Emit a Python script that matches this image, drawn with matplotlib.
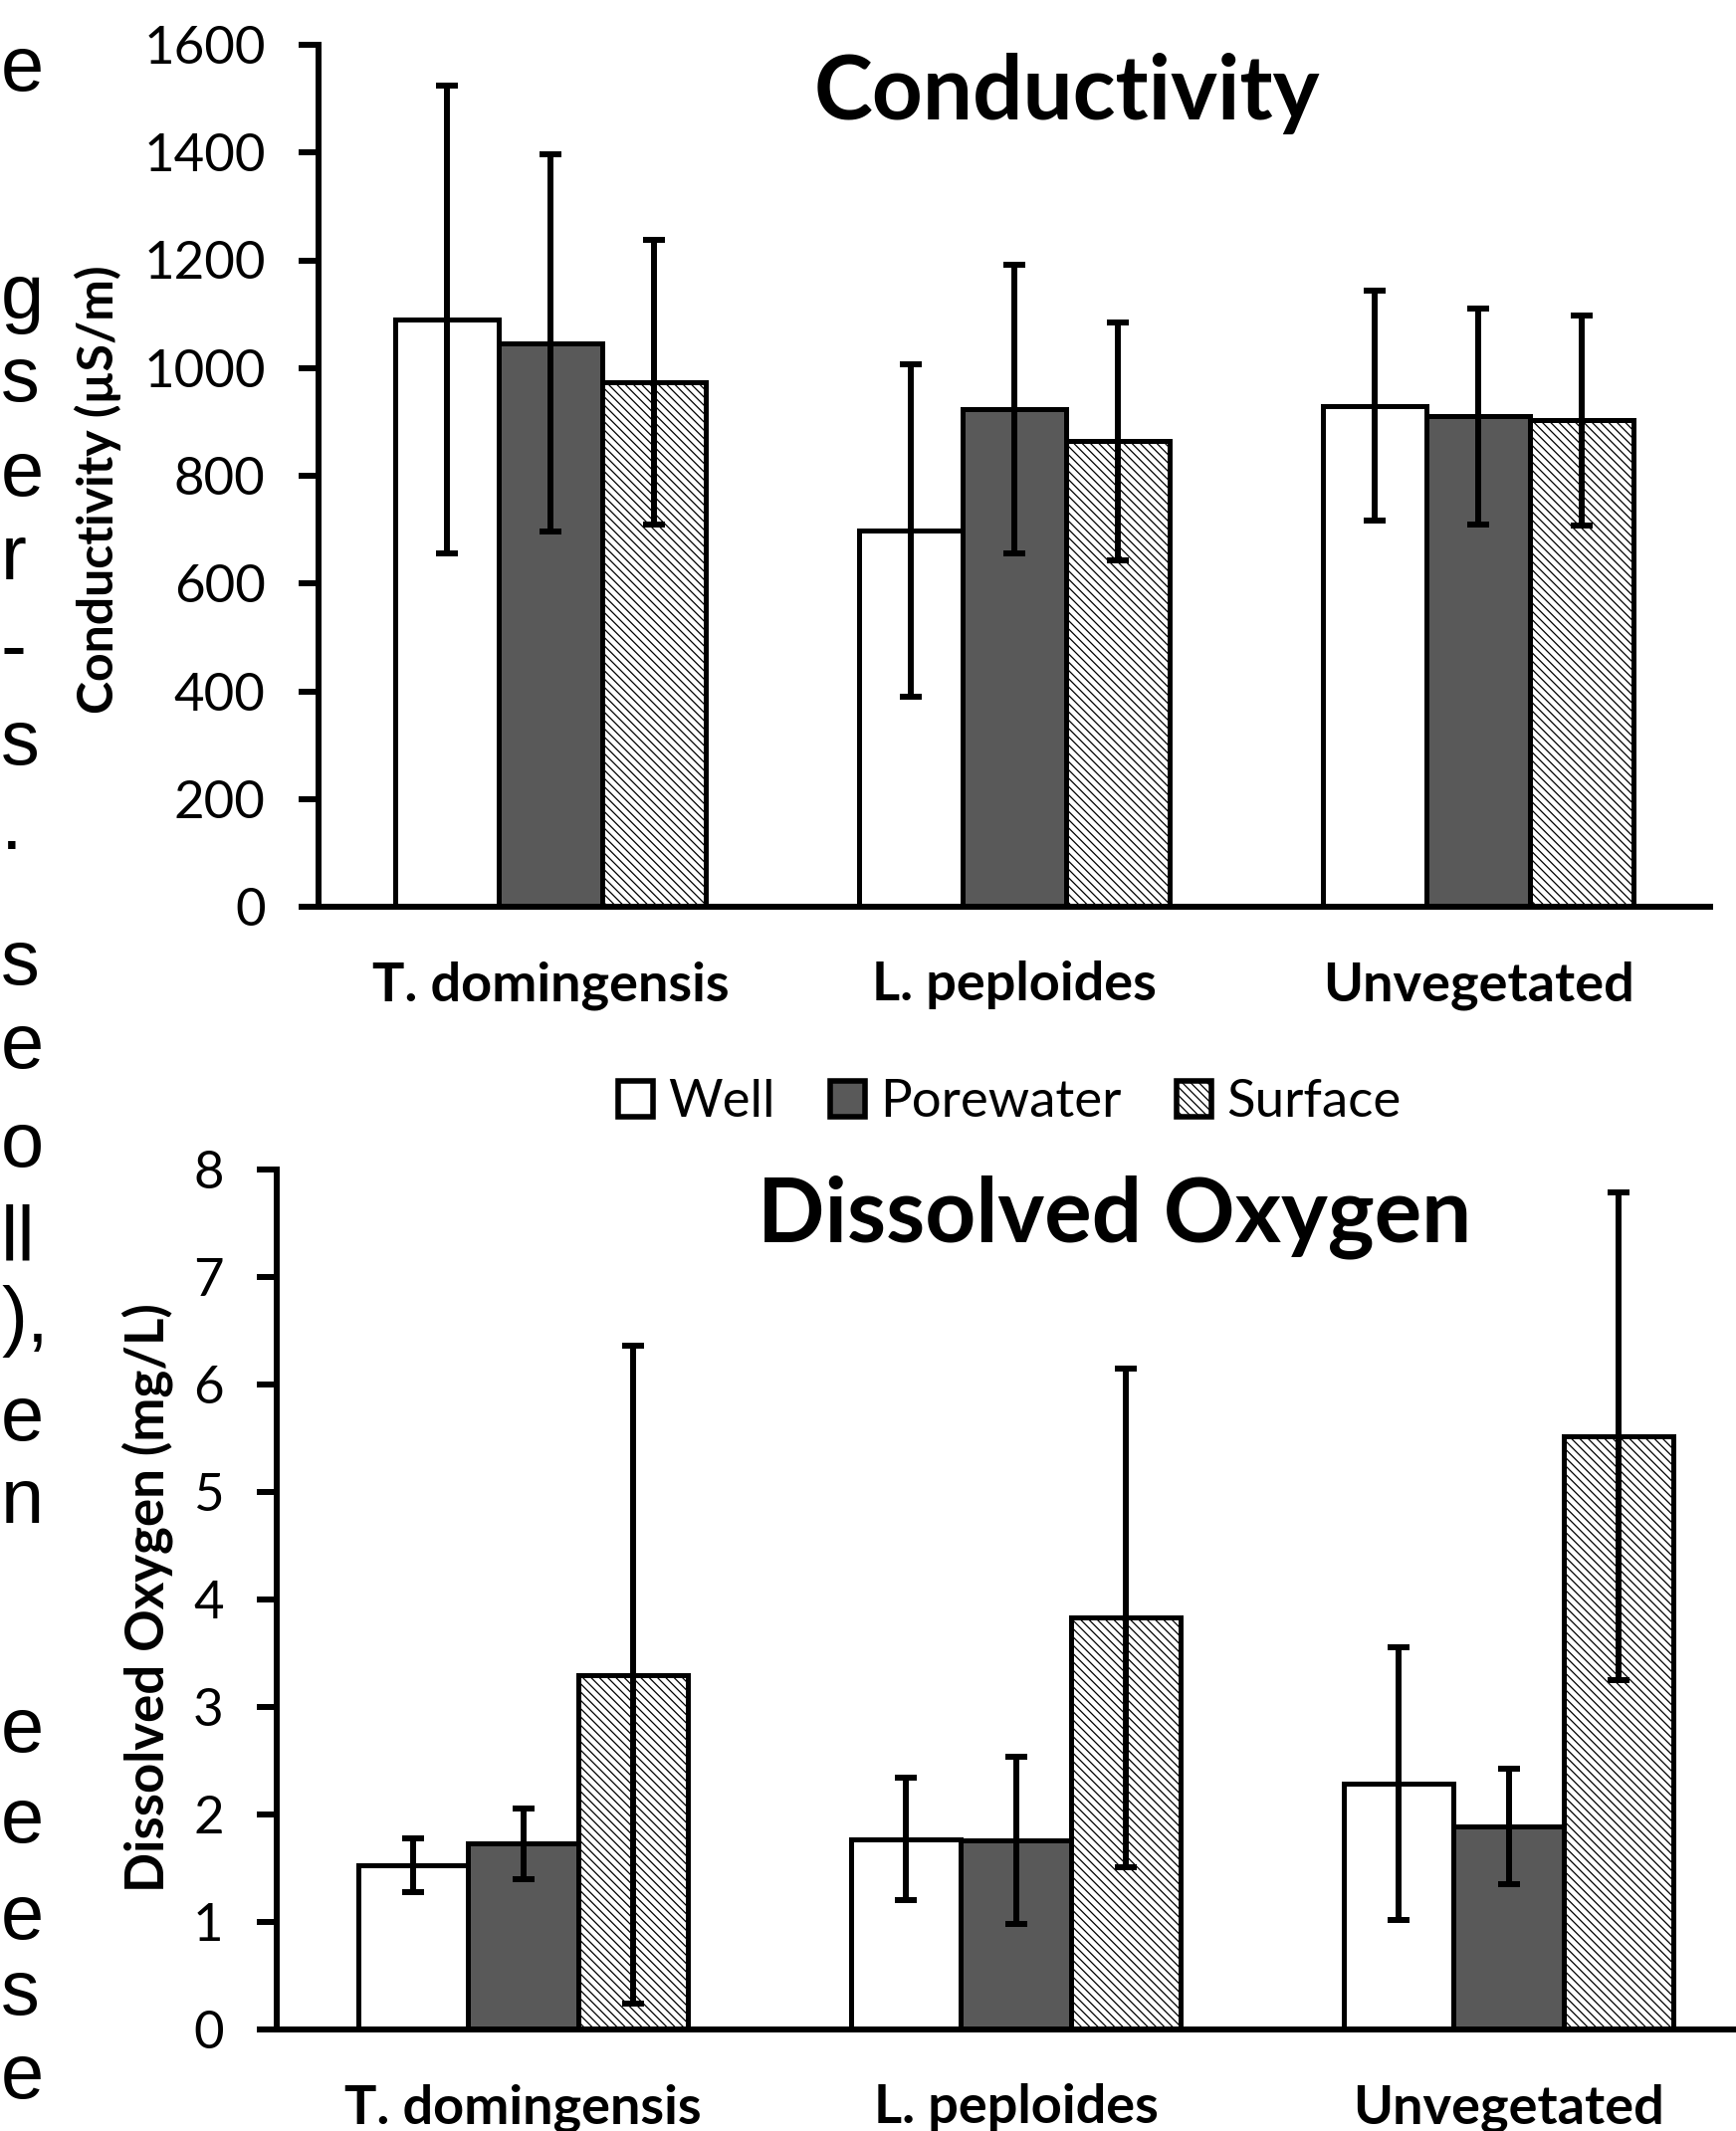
import matplotlib.pyplot as plt
from matplotlib.patches import Patch
import numpy as np

W, H = 1744, 2141

sites = ["T. domingensis", "L. peploides", "Unvegetated"]
sources = ["Well", "Porewater", "Surface"]

# conductivity (uS/m), mean and error
cond_well = [1090, 698, 930]
cond_well_err = [434, 309, 213]
cond_pore = [1046, 923, 910]
cond_pore_err = [350, 268, 200]
cond_surf = [973, 864, 903]
cond_surf_err = [264, 221, 195]

# dissolved oxygen (mg/L), mean and error
do_well = [1.53, 1.77, 2.29]
do_well_err = [0.25, 0.57, 1.27]
do_pore = [1.73, 1.76, 1.89]
do_pore_err = [0.33, 0.78, 0.54]
do_surf = [3.30, 3.83, 5.52]
do_surf_err = [3.06, 2.32, 2.27]

# visible ends of the cropped body text lines at the left edge (baseline in px)
side_chars = ["e", "g", "s", "e", "r", "-", "s", ".", "s", "e",
              "o", "ll", "),", "e", "n", "e", "e", "e", "s", "e"]
side_baselines = [91, 320, 403, 498, 582, 675, 768, 853, 989, 1073,
                  1172, 1266, 1348, 1447, 1530, 1760, 1851, 1948, 2024, 2108]

plt.rcParams["font.family"] = "Lato"
plt.rcParams["hatch.linewidth"] = 0.9

LW = 4.3
bar_w = 0.223
styles = [
    dict(facecolor="white"),
    dict(facecolor="#595959"),
    dict(facecolor="white", hatch="\\\\\\\\"),
]


def fig_xy(px, py):
    return px / W, 1 - py / H


def draw_panel(ax, means, errs, ymax, step, title, title_xy):
    x = np.arange(len(sites))
    for i, (vals, err, st) in enumerate(zip(means, errs, styles)):
        ax.bar(x + (i - 1) * bar_w, vals, bar_w, yerr=err, edgecolor="black",
               linewidth=3.6, **st,
               error_kw=dict(ecolor="black", elinewidth=LW, capsize=8, capthick=LW))
    ax.set_xlim(-0.5, 2.5)
    ax.set_ylim(0, ymax)
    ax.set_yticks(np.arange(0, ymax + step / 2, step))
    ax.set_xticks(x, sites, fontweight="bold", va="baseline")
    ax.tick_params(axis="x", length=0, pad=67.7, labelsize=39)
    ax.tick_params(axis="y", direction="out", length=14.4, width=LW, pad=24, labelsize=38)
    for side in ["top", "right"]:
        ax.spines[side].set_visible(False)
    for side in ["left", "bottom"]:
        ax.spines[side].set_linewidth(LW)
    ax.text(title_xy[0], title_xy[1], title, transform=ax.transAxes, ha="center",
            va="baseline", fontsize=64, fontweight="bold")


fig = plt.figure(figsize=(W / 100, H / 100), dpi=100)

ax_top = fig.add_axes([320 / W, 1 - 911 / H, 1398 / W, 866 / H])
draw_panel(ax_top, [cond_well, cond_pore, cond_surf],
           [cond_well_err, cond_pore_err, cond_surf_err],
           1600, 200, "Conductivity", (0.538, 0.913))

ax_bot = fig.add_axes([278 / W, 1 - 2039 / H, 1485 / W, 864 / H])
draw_panel(ax_bot, [do_well, do_pore, do_surf],
           [do_well_err, do_pore_err, do_surf_err],
           8, 1, "Dissolved Oxygen", (0.567, 0.9167))

fig.text(*fig_xy(98, 492), "Conductivity (\u00b5S/m)", rotation=90, ha="center",
         va="center", fontsize=36, fontweight="bold")
fig.text(*fig_xy(148, 1605), "Dissolved Oxygen (mg/L)", rotation=90, ha="center",
         va="center", fontsize=38, fontweight="bold")

handles = [Patch(edgecolor="black", linewidth=4, **st) for st in styles]
fig.legend(handles, sources, loc="center", bbox_to_anchor=fig_xy(1014, 1108), ncol=3,
           frameon=False, fontsize=38, handlelength=0.68, handleheight=0.68,
           handletextpad=0.28, columnspacing=1.04)

for chars, base in zip(side_chars, side_baselines):
    fig.text(*fig_xy(1, base), chars, ha="left", va="baseline",
             family="Liberation Sans", fontsize=56)

fig.savefig("out.png", dpi=100)
